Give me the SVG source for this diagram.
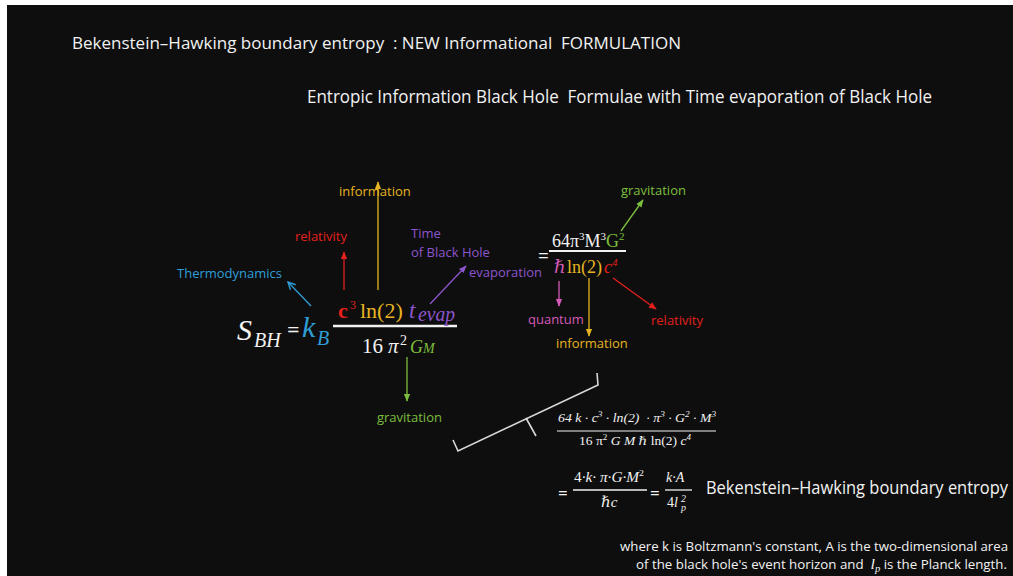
<svg xmlns="http://www.w3.org/2000/svg" width="1013" height="576" viewBox="0 0 1013 576">
<defs>
<style>
text{white-space:pre;}
.sans{font-family:"Open Sans","Liberation Sans",sans-serif;}
.serif{font-family:"Liberation Serif","DejaVu Serif",serif;}
.it{font-style:italic;}
.w{fill:#f2f2f2;}
.blue{fill:#2f9fd8;}
.red{fill:#e3201c;}
.gold{fill:#e6b422;}
.purple{fill:#8d55cc;}
.green{fill:#7cbf3c;}
.pink{fill:#d55ab9;}
.lbl{font-size:13px;}
.ln{stroke-width:1.3;fill:none;}
</style>
<marker id="mBlue" viewBox="0 0 10 10" refX="9" refY="5" markerWidth="7" markerHeight="7" orient="auto"><path d="M1,1 L9,5 L1,9" fill="none" stroke="#2f9fd8" stroke-width="1.5"/></marker>
<marker id="mRed" viewBox="0 0 10 10" refX="9" refY="5" markerWidth="6" markerHeight="6" orient="auto"><path d="M0,1 L10,5 L0,9 z" fill="#e3201c"/></marker>
<marker id="mGold" viewBox="0 0 10 10" refX="9" refY="5" markerWidth="6" markerHeight="6" orient="auto"><path d="M0,1 L10,5 L0,9 z" fill="#e6b422"/></marker>
<marker id="mPurple" viewBox="0 0 10 10" refX="9" refY="5" markerWidth="6" markerHeight="6" orient="auto"><path d="M0,1 L10,5 L0,9 z" fill="#8d55cc"/></marker>
<marker id="mGreen" viewBox="0 0 10 10" refX="9" refY="5" markerWidth="6" markerHeight="6" orient="auto"><path d="M0,1 L10,5 L0,9 z" fill="#7cbf3c"/></marker>
<marker id="mPink" viewBox="0 0 10 10" refX="9" refY="5" markerWidth="6" markerHeight="6" orient="auto"><path d="M0,1 L10,5 L0,9 z" fill="#d55ab9"/></marker>
</defs>
<rect x="0" y="0" width="1013" height="576" fill="#ffffff"/>
<rect x="7" y="5" width="1006" height="571" fill="#0e0e0e"/>

<g id="titles">
<text class="sans w" x="72" y="49" font-size="16.5" textLength="609" lengthAdjust="spacingAndGlyphs">Bekenstein–Hawking boundary entropy  : NEW Informational  FORMULATION</text>
<text class="sans w" x="307" y="103" font-size="17.5" textLength="625" lengthAdjust="spacingAndGlyphs">Entropic Information Black Hole  Formulae with Time evaporation of Black Hole</text>
</g>

<g id="formula-main">
<text class="serif it w" x="237" y="340" font-size="30">S</text>
<text class="serif it w" x="254" y="347" font-size="20">BH</text>
<text class="sans w" x="287" y="337" font-size="22">=</text>
<text class="serif it blue" x="302" y="337" font-size="30">k</text>
<text class="serif it blue" x="317" y="345" font-size="20">B</text>
<line x1="333" y1="326" x2="457" y2="326" stroke="#f2f2f2" stroke-width="2.5"/>
<text class="serif red" x="338" y="318" font-size="22" font-weight="bold">c</text>
<text class="serif red" x="350" y="309" font-size="12">3</text>
<text class="serif gold" x="360" y="318" font-size="22">ln(2)</text>
<text class="serif it purple" x="409" y="318" font-size="23">t</text>
<text class="serif it purple" x="418" y="321" font-size="20" textLength="37" lengthAdjust="spacingAndGlyphs">evap</text>
<text class="serif w" x="362" y="353" font-size="21">16</text>
<text class="serif it w" x="388" y="353" font-size="21">π</text>
<text class="serif w" x="400" y="345" font-size="14">2</text>
<text class="serif it green" x="410" y="353" font-size="18">G<tspan font-size="14">M</tspan></text>
</g>

<g id="formula-right">
<text class="sans w" x="538" y="262" font-size="19">=</text>
<text class="serif w" x="552" y="247" font-size="18">64π<tspan font-size="11" dy="-7">3</tspan><tspan dy="7">M</tspan><tspan font-size="11" dy="-7">3</tspan><tspan class="green" dy="7">G</tspan><tspan class="green" font-size="11" dy="-7">2</tspan></text>
<line x1="549" y1="251" x2="626" y2="251" stroke="#f2f2f2" stroke-width="2"/>
<text class="serif it pink" x="554" y="273" font-size="18">ℏ</text>
<text class="serif gold" x="567" y="273" font-size="18">ln(2)</text>
<text class="serif it red" x="604" y="273" font-size="18">c<tspan font-size="11" dy="-7">4</tspan></text>
</g>

<g id="labels">
<text class="sans lbl blue" x="177" y="278">Thermodynamics</text>
<text class="sans lbl red" x="295" y="241">relativity</text>
<text class="sans lbl gold" x="339" y="196">information</text>
<text class="sans lbl purple" x="411" y="238">Time</text>
<text class="sans lbl purple" x="411" y="257">of Black Hole</text>
<text class="sans lbl purple" x="469" y="277">evaporation</text>
<text class="sans lbl green" x="377" y="422">gravitation</text>
<text class="sans lbl green" x="621" y="195">gravitation</text>
<text class="sans lbl pink" x="528" y="324">quantum</text>
<text class="sans lbl gold" x="556" y="348">information</text>
<text class="sans lbl red" x="651" y="325">relativity</text>
</g>

<g id="connectors">
<line class="ln" x1="311" y1="306" x2="288" y2="282" stroke="#2f9fd8" marker-end="url(#mBlue)"/>
<line class="ln" x1="344" y1="290" x2="344" y2="252" stroke="#e3201c" marker-end="url(#mRed)"/>
<line class="ln" x1="378" y1="290" x2="378" y2="182" stroke="#e6b422" marker-end="url(#mGold)"/>
<line class="ln" x1="430" y1="304" x2="466" y2="266" stroke="#8d55cc" marker-end="url(#mPurple)"/>
<line class="ln" x1="407" y1="357" x2="407" y2="401" stroke="#7cbf3c" marker-end="url(#mGreen)"/>
<line class="ln" x1="621" y1="231" x2="643" y2="200" stroke="#7cbf3c" marker-end="url(#mGreen)"/>
<line class="ln" x1="559" y1="281" x2="559" y2="306" stroke="#d55ab9" marker-end="url(#mPink)"/>
<line class="ln" x1="589" y1="278" x2="589" y2="336" stroke="#e6b422" marker-end="url(#mGold)"/>
<line class="ln" x1="613" y1="278" x2="656" y2="309" stroke="#e3201c" marker-end="url(#mRed)"/>
<polyline points="453,440 458,451 598,385 597,373" fill="none" stroke="#d8d8d8" stroke-width="1.6"/>
<line x1="526" y1="418" x2="536" y2="436" stroke="#d8d8d8" stroke-width="1.6"/>
</g>

<g id="formula-expanded">
<text class="serif it w" x="558" y="422" font-size="12" textLength="158" lengthAdjust="spacingAndGlyphs">64 k · c<tspan font-size="8" dy="-5">3</tspan><tspan dy="5"> · ln(2)  · π</tspan><tspan font-size="8" dy="-5">3</tspan><tspan dy="5"> · G</tspan><tspan font-size="8" dy="-5">2</tspan><tspan dy="5"> · M</tspan><tspan font-size="8" dy="-5">3</tspan></text>
<line x1="557" y1="431" x2="716" y2="431" stroke="#f2f2f2" stroke-width="1"/>
<text class="serif it w" x="579" y="445" font-size="12" textLength="112" lengthAdjust="spacingAndGlyphs"><tspan font-style="normal">16 π</tspan><tspan font-style="normal" font-size="8" dy="-5">2</tspan><tspan dy="5"> G M ℏ </tspan><tspan font-style="normal">ln(2)</tspan> c<tspan font-size="8" dy="-5">4</tspan></text>
</g>

<g id="formula-result">
<text class="sans w" x="558" y="499" font-size="17">=</text>
<text class="serif it w" x="574" y="482" font-size="14" textLength="70" lengthAdjust="spacingAndGlyphs"><tspan font-style="normal">4</tspan>·k· π·G·M<tspan font-size="9" dy="-6" font-style="normal">2</tspan></text>
<line x1="573" y1="490" x2="647" y2="490" stroke="#f2f2f2" stroke-width="1.3"/>
<text class="serif it w" x="601" y="507" font-size="15">ℏc</text>
<text class="sans w" x="650" y="499" font-size="17">=</text>
<text class="serif it w" x="666" y="482" font-size="14">k·A</text>
<line x1="665" y1="490" x2="692" y2="490" stroke="#f2f2f2" stroke-width="1.3"/>
<text class="serif it w" x="667" y="507" font-size="14"><tspan font-style="normal">4</tspan>l</text>
<text class="serif it w" x="681" y="502" font-size="10">2</text>
<text class="serif it w" x="681" y="511" font-size="10">p</text>
<text class="sans w" x="706" y="494" font-size="17.5" textLength="302" lengthAdjust="spacingAndGlyphs">Bekenstein–Hawking boundary entropy</text>
</g>

<g id="footnote">
<text class="sans w" x="620" y="551" font-size="12.5" textLength="388" lengthAdjust="spacingAndGlyphs">where k is Boltzmann's constant, A is the two-dimensional area</text>
<text class="sans w" x="636" y="569" font-size="12.5" textLength="371" lengthAdjust="spacingAndGlyphs">of the black hole's event horizon and  <tspan class="serif it" font-size="15">l</tspan><tspan class="serif it" font-size="10" dy="3">p</tspan><tspan dy="-3"> is the Planck length.</tspan></text>
</g>
</svg>
